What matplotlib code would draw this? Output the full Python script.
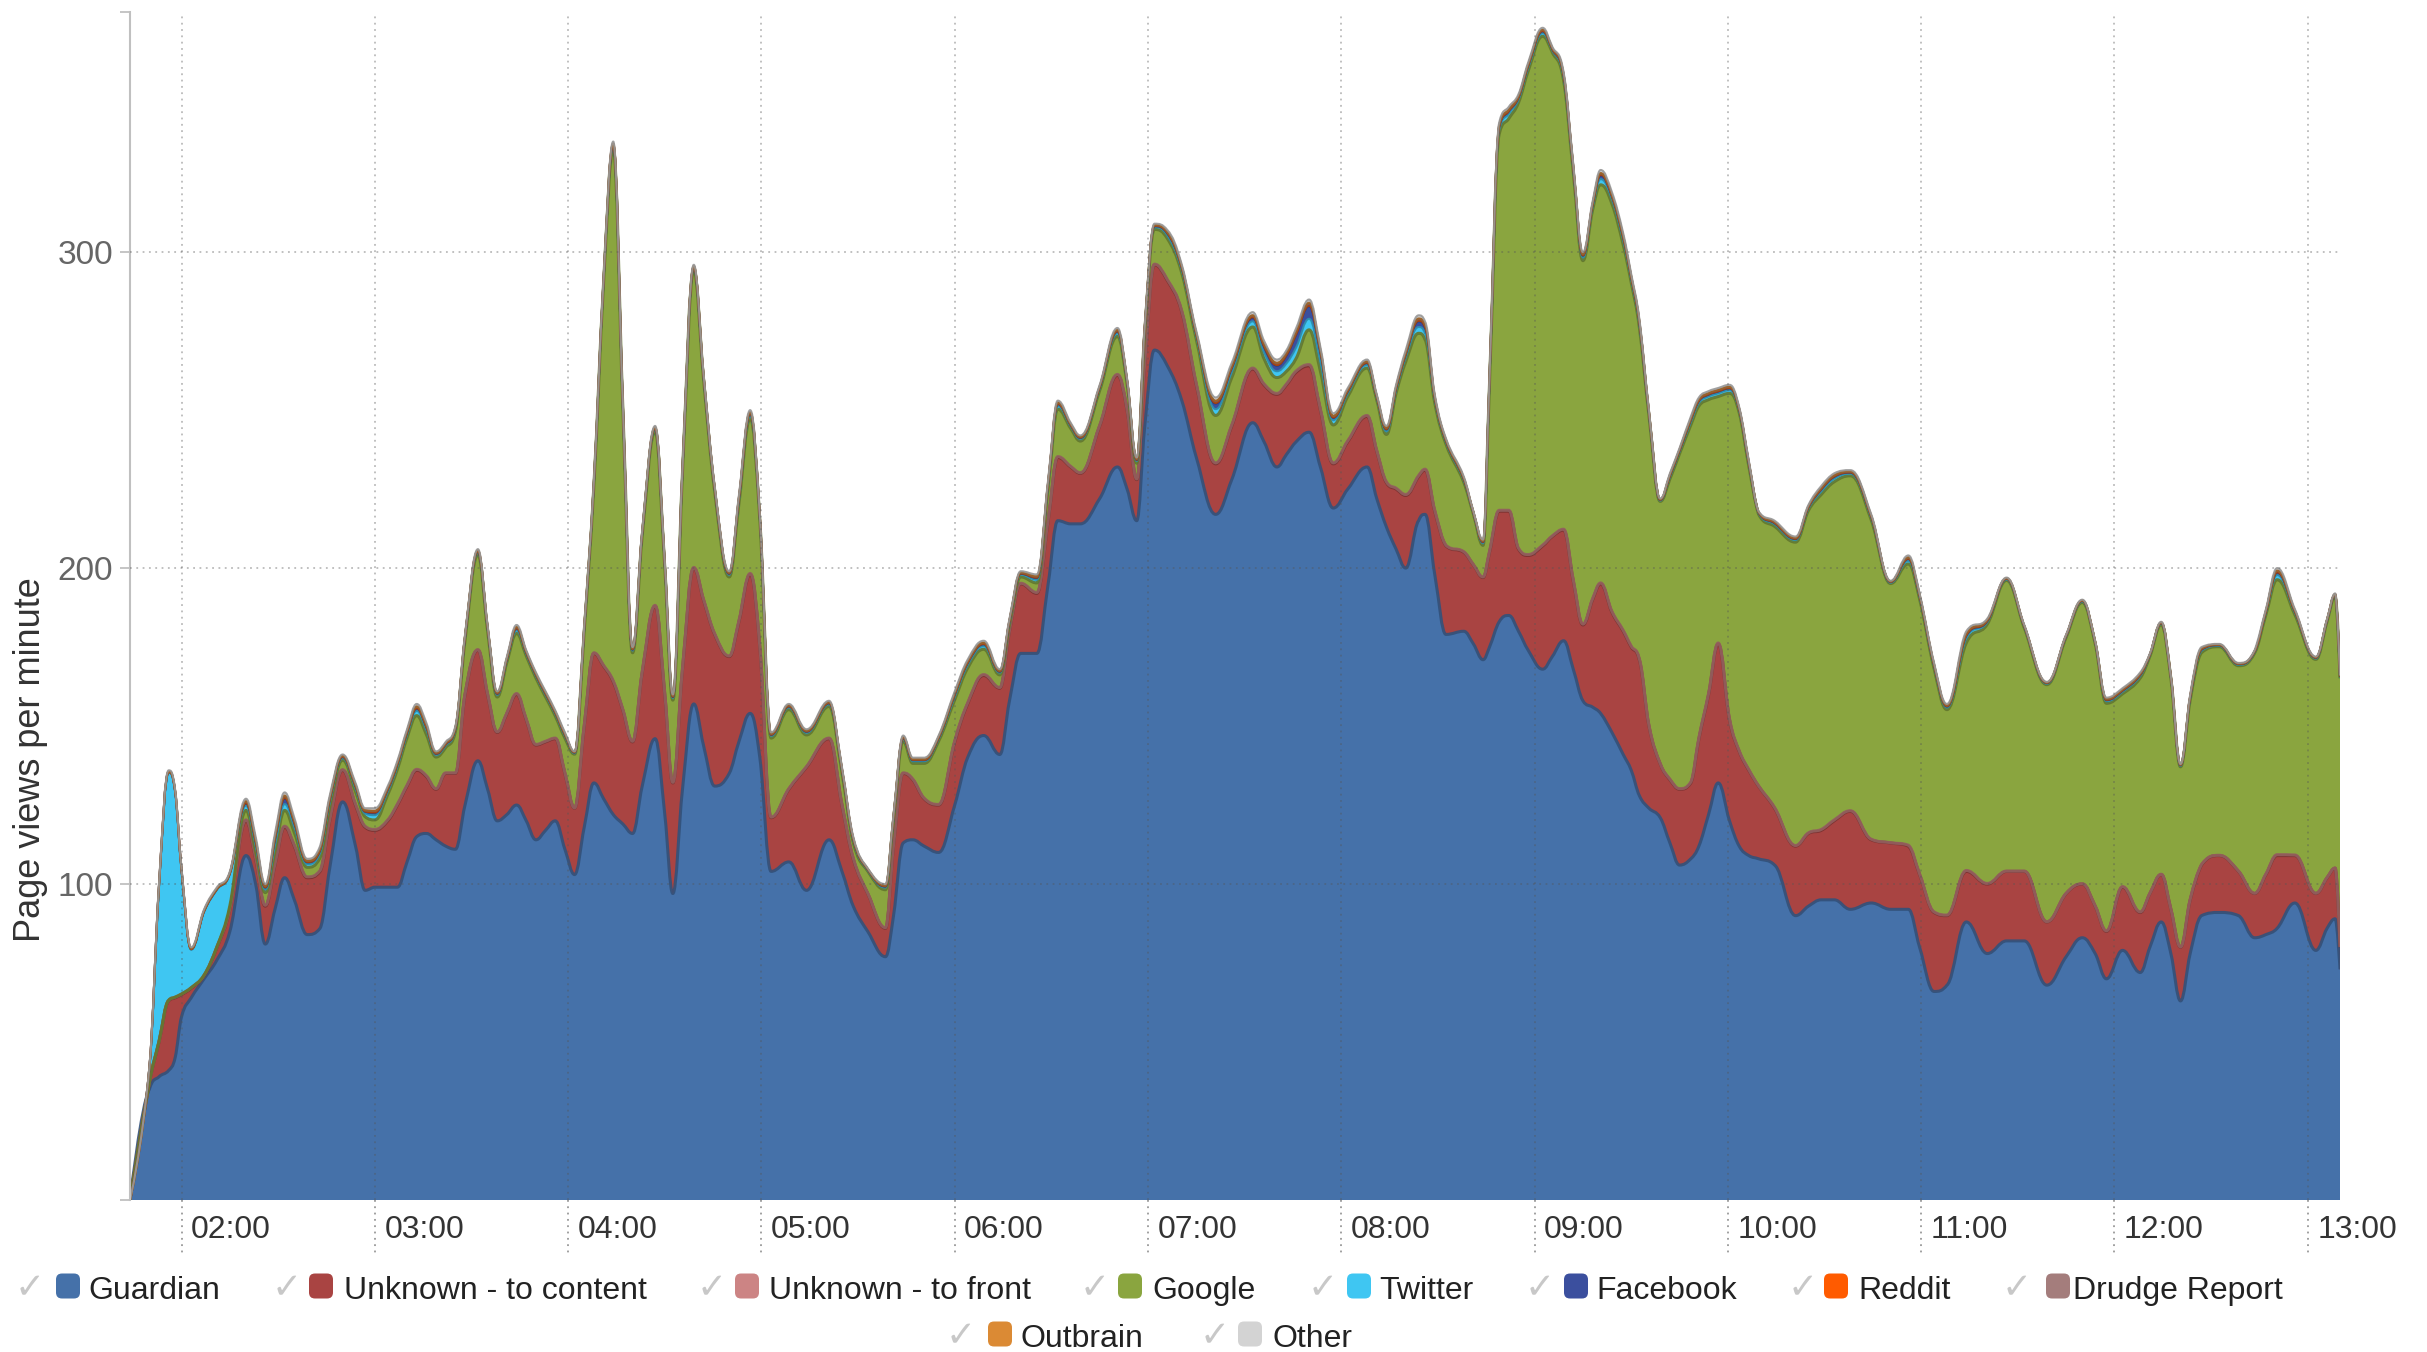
import numpy as np
import matplotlib.pyplot as plt
import matplotlib.colors as mcolors
from matplotlib.patches import FancyBboxPatch, PathPatch
from matplotlib.path import Path

# minutes since midnight
minutes = [104, 110, 113, 116, 118, 120, 123, 127, 131, 135,
           140, 143, 146, 149, 152, 155, 159, 163, 166, 170,
           174, 177, 180, 184, 187, 190, 193, 196, 199, 202,
           205, 208, 212, 215, 218, 221, 224, 227, 230, 233,
           236, 239, 242, 245, 248, 251, 254, 257, 260, 263,
           267, 270, 272.5, 275.5, 279, 282, 285.5, 290, 293, 296.5,
           299.5, 303, 308.5, 314, 321, 325, 328.5, 333, 338.5, 341,
           344, 347, 350.5, 355, 360, 364, 369, 374, 377, 380.5,
           385.5, 389, 392, 396, 399, 405, 410.5, 413.5, 416.5, 419,
           422, 426, 430.5, 435, 441, 446, 452.5, 456, 460, 463,
           466, 470, 473.5, 477.5, 482, 488, 491, 494, 497, 500,
           504, 506, 509, 512.5, 518, 521, 524, 526, 529, 532,
           535, 538, 542.5, 545.5, 549, 552, 555, 558, 560.5, 564,
           567.5, 570, 572.5, 575.5, 579, 582, 585, 588.5, 591, 594,
           597, 600.5, 603.5, 606.5, 609.5, 614.5, 621, 625, 629, 633,
           638, 644.5, 650.5, 656, 659.5, 664, 668, 674, 680.5, 686.5,
           692, 699, 705, 710, 714, 717.5, 722.5, 728, 731, 734.5,
           737.5, 740.5, 743.5, 747, 752.5, 758.5, 763.5, 767, 770.5, 776,
           782.5, 786, 788.5, 790]

guardian = [0, 35, 39, 41, 45, 58, 64, 70, 76, 85,
            109, 100, 81, 92, 102, 95, 84, 86, 105, 126,
            112, 98, 99, 99, 99, 107, 115, 116, 114, 112,
            111, 125, 139, 130, 120, 122, 125, 120, 114, 117,
            120, 111, 103, 118, 132, 127, 122, 119, 116, 131,
            146, 122, 97, 130, 157, 144, 131, 135, 145, 154,
            140, 104, 107, 98, 114, 104, 93, 85, 77, 90,
            113, 114, 112, 110, 125, 140, 147, 141, 158, 173,
            173, 195, 215, 214, 214, 222, 232, 225, 215, 245,
            269, 264, 253, 235, 217, 228, 246, 240, 232, 236,
            240, 243, 232, 219, 225, 232, 222, 213, 206, 200,
            215, 217, 198, 179, 180, 176, 171, 175, 183, 185,
            180, 174, 168, 172, 177, 168, 158, 156, 154, 148,
            141, 136, 128, 124, 121, 113, 106, 108, 112, 122,
            132, 120, 112, 109, 108, 106, 90, 93, 95, 95,
            92, 94, 92, 92, 80, 66, 68, 88, 78, 82,
            82, 68, 77, 83, 78, 70, 79, 72, 80, 88,
            78, 63, 78, 90, 91, 90, 83, 84, 86, 94,
            79, 86, 89, 73]

unknown_content = [0, 2, 11, 22, 19, 7, 3, 1, 4, 7,
                   11, 8, 12, 14, 16, 17, 18, 18, 15, 10,
                   13, 20, 18, 21, 26, 24, 21, 18, 16, 23,
                   24, 35, 35, 30, 28, 32, 35, 32, 30, 28,
                   26, 24, 21, 32, 41, 42, 42, 36, 29, 36,
                   42, 38, 35, 38, 43, 46, 48, 37, 38, 44,
                   35, 17, 23, 39, 32, 21, 15, 12, 9, 22,
                   22, 19, 15, 15, 20, 17, 19, 21, 22, 22,
                   19, 20, 20, 18, 16, 23, 29, 25, 13, 20,
                   27, 27, 28, 23, 16, 17, 17, 18, 23, 22,
                   22, 21, 18, 14, 15, 16, 15, 14, 19, 23,
                   14, 14, 20, 28, 25, 25, 26, 30, 35, 33,
                   26, 30, 39, 38, 35, 28, 24, 34, 41, 38,
                   39, 39, 43, 26, 17, 20, 24, 24, 34, 38,
                   44, 32, 30, 27, 23, 18, 22, 23, 22, 25,
                   31, 20, 21, 20, 23, 25, 22, 16, 22, 22,
                   22, 20, 20, 17, 15, 15, 20, 19, 17, 15,
                   14, 17, 17, 16, 18, 14, 14, 19, 23, 15,
                   18, 16, 16, 7]

unknown_front = [0, 0.1, 0.2, 0.2, 0.2, 0.2, 0.2, 0.2, 0.2, 0.2,
                 0.3, 0.3, 0.3, 0.3, 0.3, 0.3, 0.3, 0.3, 0.3, 0.2,
                 0.3, 0.3, 0.3, 0.3, 0.3, 0.3, 0.3, 0.3, 0.2, 0.2,
                 0.2, 0.2, 0.2, 0.2, 0.2, 0.2, 0.3, 0.2, 0.2, 0.2,
                 0.2, 0.2, 0.1, 0.2, 0.2, 0.2, 0.3, 0.2, 0.2, 0.2,
                 0.2, 0.2, 0.2, 0.2, 0.2, 0.2, 0.2, 0.2, 0.3, 0.3,
                 0.2, 0.2, 0.2, 0.2, 0.2, 0.2, 0.2, 0.1, 0.2, 0.2,
                 0.2, 0.2, 0.2, 0.2, 0.3, 0.3, 0.3, 0.2, 0.2, 0.2,
                 0.3, 0.3, 0.3, 0.2, 0.2, 0.2, 0.3, 0.2, 0.2, 0.2,
                 0.2, 0.3, 0.3, 0.3, 0.3, 0.3, 0.3, 0.3, 0.3, 0.3,
                 0.4, 0.4, 0.3, 0.3, 0.3, 0.3, 0.2, 0.3, 0.3, 0.3,
                 0.3, 0.3, 0.3, 0.2, 0.2, 0.1, 0.2, 0.3, 0.3, 0.3,
                 0.3, 0.3, 0.3, 0.2, 0.3, 0.3, 0.3, 0.3, 0.3, 0.3,
                 0.3, 0.3, 0.3, 0.2, 0.1, 0.2, 0.2, 0.3, 0.3, 0.3,
                 0.3, 0.3, 0.2, 0.2, 0.1, 0.2, 0.2, 0.2, 0.3, 0.3,
                 0.2, 0.2, 0.1, 0.3, 0.2, 0.2, 0.2, 0.3, 0.2, 0.1,
                 0.1, 0.1, 0.1, 0.1, 0.1, 0.2, 0.2, 0.2, 0.1, 0.1,
                 0.1, 0.1, 0.2, 0.2, 0.1, 0.1, 0.1, 0.2, 0.3, 0.2,
                 0.1, 0.1, 0.1, 0.1]

google = [0, 0, 0, 0, 0, 0, 0, 0, 0, 1,
          3, 2, 4, 4, 5, 4, 3, 4, 4, 3,
          4, 3, 3, 8, 11, 15, 17, 13, 10, 8,
          13, 17, 30, 20, 11, 16, 19, 20, 21, 14,
          7, 11, 17, 30, 53, 121, 168, 95, 28, 43,
          55, 40, 26, 62, 94, 70, 45, 25, 37, 49,
          40, 25, 25, 10, 10, 10, 5, 7, 12, 8,
          10, 5, 11, 20, 13, 11, 8, 4, 2, 2,
          3, 10, 15, 12, 10, 11, 12, 8, 5, 10,
          11, 13, 12, 14, 15, 15, 13, 8, 5, 4,
          4, 11, 12, 12, 14, 15, 16, 15, 30, 42,
          45, 41, 34, 32, 22, 16, 10, 53, 119, 124,
          141, 153, 161, 153, 142, 129, 115, 123, 126, 129,
          122, 115, 105, 98, 83, 95, 106, 113, 105, 93,
          78, 103, 107, 96, 86, 89, 96, 102, 106, 107,
          106, 101, 82, 89, 87, 77, 65, 72, 82, 92,
          77, 75, 81, 89, 83, 72, 61, 74, 75, 79,
          73, 57, 63, 67, 66, 65, 76, 82, 87, 76,
          74, 81, 86, 85]

twitter = [0, 4.5, 49, 72, 65, 39, 12, 20, 18, 10,
           1.5, 1.8, 1, 2, 2, 1.8, 1, 1.5, 1.5, 0.7,
           1, 1, 1.5, 1, 1, 1, 1.5, 1.5, 0.7, 0.7,
           0.7, 0.7, 0.7, 0.7, 0.7, 0.7, 1, 0.7, 0.7, 0.7,
           0.7, 0.7, 0.3, 0.7, 0.7, 0.7, 1, 0.7, 0.7, 0.7,
           0.7, 0.7, 0.7, 0.7, 0.7, 0.7, 0.7, 0.7, 1, 1,
           0.7, 0.7, 0.7, 0.7, 0.7, 0.7, 0.7, 0.3, 0.7, 0.7,
           0.7, 0.7, 0.7, 0.7, 1, 1, 1, 0.7, 0.7, 0.7,
           1, 1, 1, 0.7, 0.7, 0.7, 1, 0.7, 0.7, 0.7,
           0.7, 1, 1, 1, 2, 1.8, 1.8, 2, 2, 2.5,
           3.5, 3.5, 3, 1.5, 1, 1, 0.7, 1, 1, 1.5,
           2, 2, 1, 0.7, 0.7, 0.3, 0.7, 1, 1.5, 1.5,
           1, 1, 1, 0.7, 1, 1, 1, 1, 1.8, 1.5,
           1.5, 1, 1, 0.7, 0.3, 0.7, 0.7, 1, 1, 1,
           1, 1, 0.7, 0.7, 0.3, 0.7, 0.7, 0.7, 1, 1,
           0.7, 0.7, 0.3, 1, 0.7, 0.7, 0.7, 1.5, 0.7, 0.3,
           0.3, 0.3, 0.3, 0.3, 0.3, 0.7, 0.7, 0.7, 0.3, 0.3,
           0.3, 0.3, 0.7, 0.7, 0.3, 0.3, 0.3, 0.7, 1.5, 0.7,
           0.3, 0.3, 0.3, 0.3]

facebook = [0, 0.1, 0.2, 0.2, 0.2, 0.2, 0.2, 0.2, 0.2, 0.2,
            0.8, 1.2, 0.6, 1.8, 1.8, 1.2, 0.6, 0.8, 0.8, 0.3,
            0.6, 0.6, 0.8, 0.6, 0.6, 0.6, 0.8, 0.8, 0.3, 0.3,
            0.3, 0.3, 0.3, 0.3, 0.3, 0.3, 0.6, 0.3, 0.3, 0.3,
            0.3, 0.3, 0.2, 0.3, 0.3, 0.3, 0.6, 0.3, 0.3, 0.3,
            0.3, 0.3, 0.3, 0.3, 0.3, 0.3, 0.3, 0.3, 0.6, 0.6,
            0.3, 0.3, 0.3, 0.3, 0.3, 0.3, 0.3, 0.2, 0.3, 0.3,
            0.3, 0.3, 0.3, 0.3, 0.6, 0.6, 0.6, 0.3, 0.3, 0.3,
            0.6, 0.6, 0.6, 0.3, 0.3, 0.3, 0.6, 0.3, 0.3, 0.3,
            0.3, 0.6, 0.6, 0.6, 1.8, 1.2, 1.2, 1.8, 1.8, 2.5,
            4, 4, 3, 0.8, 0.6, 0.6, 0.3, 0.6, 0.6, 0.8,
            1.8, 1.8, 0.6, 0.3, 0.3, 0.2, 0.3, 0.6, 0.8, 0.8,
            0.6, 0.6, 0.6, 0.3, 0.6, 0.6, 0.6, 0.6, 1.2, 0.8,
            0.8, 0.6, 0.6, 0.3, 0.2, 0.3, 0.3, 0.6, 0.6, 0.6,
            0.6, 0.6, 0.3, 0.3, 0.2, 0.3, 0.3, 0.3, 0.6, 0.6,
            0.3, 0.3, 0.2, 0.6, 0.3, 0.3, 0.3, 0.8, 0.3, 0.2,
            0.2, 0.2, 0.2, 0.2, 0.2, 0.3, 0.3, 0.3, 0.2, 0.2,
            0.2, 0.2, 0.3, 0.3, 0.2, 0.2, 0.2, 0.3, 0.8, 0.3,
            0.2, 0.2, 0.2, 0.2]

reddit = [0, 0, 0, 0, 0, 0, 0, 0, 0, 0,
          0.1, 0.2, 0.1, 0.2, 0.2, 0.2, 0.1, 0.1, 0.1, 0.1,
          0.1, 0.1, 0.1, 0.1, 0.1, 0.1, 0.1, 0.1, 0.1, 0.1,
          0.1, 0.1, 0.1, 0.1, 0.1, 0.1, 0.1, 0.1, 0.1, 0.1,
          0.1, 0.1, 0.05, 0.1, 0.1, 0.1, 0.1, 0.1, 0.1, 0.1,
          0.1, 0.1, 0.1, 0.1, 0.1, 0.1, 0.1, 0.1, 0.1, 0.1,
          0.1, 0.1, 0.1, 0.1, 0.1, 0.1, 0.1, 0.05, 0.1, 0.1,
          0.1, 0.1, 0.1, 0.1, 0.1, 0.1, 0.1, 0.1, 0.1, 0.1,
          0.1, 0.1, 0.1, 0.1, 0.1, 0.1, 0.1, 0.1, 0.1, 0.1,
          0.1, 0.1, 0.1, 0.1, 0.2, 0.2, 0.2, 0.2, 0.2, 0.2,
          0.2, 0.2, 0.2, 0.1, 0.1, 0.1, 0.1, 0.1, 0.1, 0.1,
          0.2, 0.2, 0.1, 0.1, 0.1, 0.05, 0.1, 0.1, 0.1, 0.1,
          0.1, 0.1, 0.1, 0.1, 0.1, 0.1, 0.1, 0.1, 0.2, 0.1,
          0.1, 0.1, 0.1, 0.1, 0.05, 0.1, 0.1, 0.1, 0.1, 0.1,
          0.1, 0.1, 0.1, 0.1, 0.05, 0.1, 0.1, 0.1, 0.1, 0.1,
          0.1, 0.1, 0.05, 0.1, 0.1, 0.1, 0.1, 0.1, 0.1, 0.05,
          0.05, 0.05, 0.05, 0.05, 0.05, 0.1, 0.1, 0.1, 0.05, 0.05,
          0.05, 0.05, 0.1, 0.1, 0.05, 0.05, 0.05, 0.1, 0.1, 0.1,
          0.05, 0.05, 0.05, 0.05]

drudge_report = [0, 0.1, 0.2, 0.2, 0.2, 0.2, 0.2, 0.2, 0.2, 0.2,
                 0.4, 0.4, 0.3, 0.5, 0.5, 0.4, 0.3, 0.4, 0.4, 0.2,
                 0.3, 0.3, 0.4, 0.3, 0.3, 0.3, 0.4, 0.4, 0.2, 0.2,
                 0.2, 0.2, 0.2, 0.2, 0.2, 0.2, 0.3, 0.2, 0.2, 0.2,
                 0.2, 0.2, 0.1, 0.2, 0.2, 0.2, 0.3, 0.2, 0.2, 0.2,
                 0.2, 0.2, 0.2, 0.2, 0.2, 0.2, 0.2, 0.2, 0.3, 0.3,
                 0.2, 0.2, 0.2, 0.2, 0.2, 0.2, 0.2, 0.1, 0.2, 0.2,
                 0.2, 0.2, 0.2, 0.2, 0.3, 0.3, 0.3, 0.2, 0.2, 0.2,
                 0.3, 0.3, 0.3, 0.2, 0.2, 0.2, 0.3, 0.2, 0.2, 0.2,
                 0.2, 0.3, 0.3, 0.3, 0.5, 0.4, 0.4, 0.5, 0.5, 0.5,
                 0.6, 0.6, 0.5, 0.4, 0.3, 0.3, 0.2, 0.3, 0.3, 0.4,
                 0.5, 0.5, 0.3, 0.2, 0.2, 0.1, 0.2, 0.3, 0.4, 0.4,
                 0.3, 0.3, 0.3, 0.2, 0.3, 0.3, 0.3, 0.3, 0.4, 0.4,
                 0.4, 0.3, 0.3, 0.2, 0.1, 0.2, 0.2, 0.3, 0.3, 0.3,
                 0.3, 0.3, 0.2, 0.2, 0.1, 0.2, 0.2, 0.2, 0.3, 0.3,
                 0.2, 0.2, 0.1, 0.3, 0.2, 0.2, 0.2, 0.4, 0.2, 0.1,
                 0.1, 0.1, 0.1, 0.1, 0.1, 0.2, 0.2, 0.2, 0.1, 0.1,
                 0.1, 0.1, 0.2, 0.2, 0.1, 0.1, 0.1, 0.2, 0.4, 0.2,
                 0.1, 0.1, 0.1, 0.1]

outbrain = [0, 0, 0, 0, 0, 0, 0, 0, 0, 0,
            0.1, 0.1, 0.1, 0.2, 0.2, 0.1, 0.1, 0.1, 0.1, 0.1,
            0.1, 0.1, 0.1, 0.1, 0.1, 0.1, 0.1, 0.1, 0.1, 0.1,
            0.1, 0.1, 0.1, 0.1, 0.1, 0.1, 0.1, 0.1, 0.1, 0.1,
            0.1, 0.1, 0.05, 0.1, 0.1, 0.1, 0.1, 0.1, 0.1, 0.1,
            0.1, 0.1, 0.1, 0.1, 0.1, 0.1, 0.1, 0.1, 0.1, 0.1,
            0.1, 0.1, 0.1, 0.1, 0.1, 0.1, 0.1, 0.05, 0.1, 0.1,
            0.1, 0.1, 0.1, 0.1, 0.1, 0.1, 0.1, 0.1, 0.1, 0.1,
            0.1, 0.1, 0.1, 0.1, 0.1, 0.1, 0.1, 0.1, 0.1, 0.1,
            0.1, 0.1, 0.1, 0.1, 0.2, 0.1, 0.1, 0.2, 0.2, 0.2,
            0.3, 0.3, 0.2, 0.1, 0.1, 0.1, 0.1, 0.1, 0.1, 0.1,
            0.2, 0.2, 0.1, 0.1, 0.1, 0.05, 0.1, 0.1, 0.1, 0.1,
            0.1, 0.1, 0.1, 0.1, 0.1, 0.1, 0.1, 0.1, 0.1, 0.1,
            0.1, 0.1, 0.1, 0.1, 0.05, 0.1, 0.1, 0.1, 0.1, 0.1,
            0.1, 0.1, 0.1, 0.1, 0.05, 0.1, 0.1, 0.1, 0.1, 0.1,
            0.1, 0.1, 0.05, 0.1, 0.1, 0.1, 0.1, 0.1, 0.1, 0.05,
            0.05, 0.05, 0.05, 0.05, 0.05, 0.1, 0.1, 0.1, 0.05, 0.05,
            0.05, 0.05, 0.1, 0.1, 0.05, 0.05, 0.05, 0.1, 0.1, 0.1,
            0.05, 0.05, 0.05, 0.05]

other = [0, 0.2, 0.4, 0.4, 0.4, 0.4, 0.4, 0.4, 0.4, 0.4,
         0.8, 1, 0.6, 1, 1, 1, 0.6, 0.8, 0.8, 0.4,
         0.6, 0.6, 0.8, 0.6, 0.6, 0.6, 0.8, 0.8, 0.4, 0.4,
         0.4, 0.4, 0.4, 0.4, 0.4, 0.4, 0.6, 0.4, 0.4, 0.4,
         0.4, 0.4, 0.2, 0.4, 0.4, 0.4, 0.6, 0.4, 0.4, 0.4,
         0.4, 0.4, 0.4, 0.4, 0.4, 0.4, 0.4, 0.4, 0.6, 0.6,
         0.4, 0.4, 0.4, 0.4, 0.4, 0.4, 0.4, 0.2, 0.4, 0.4,
         0.4, 0.4, 0.4, 0.4, 0.6, 0.6, 0.6, 0.4, 0.4, 0.4,
         0.6, 0.6, 0.6, 0.4, 0.4, 0.4, 0.6, 0.4, 0.4, 0.4,
         0.4, 0.6, 0.6, 0.6, 1, 1, 1, 1, 1, 0.8,
         1, 1, 0.8, 0.8, 0.6, 0.6, 0.4, 0.6, 0.6, 0.8,
         1, 1, 0.6, 0.4, 0.4, 0.2, 0.4, 0.6, 0.8, 0.8,
         0.6, 0.6, 0.6, 0.4, 0.6, 0.6, 0.6, 0.6, 1, 0.8,
         0.8, 0.6, 0.6, 0.4, 0.2, 0.4, 0.4, 0.6, 0.6, 0.6,
         0.6, 0.6, 0.4, 0.4, 0.2, 0.4, 0.4, 0.4, 0.6, 0.6,
         0.4, 0.4, 0.2, 0.6, 0.4, 0.4, 0.4, 0.8, 0.4, 0.2,
         0.2, 0.2, 0.2, 0.2, 0.2, 0.4, 0.4, 0.4, 0.2, 0.2,
         0.2, 0.2, 0.4, 0.4, 0.2, 0.2, 0.2, 0.4, 0.8, 0.4,
         0.2, 0.2, 0.2, 0.2]

hour_ticks = [120, 180, 240, 300, 360, 420, 480, 540, 600, 660, 720, 780]
hour_labels = ["02:00", "03:00", "04:00", "05:00", "06:00", "07:00",
               "08:00", "09:00", "10:00", "11:00", "12:00", "13:00"]

names = ["Guardian", "Unknown - to content", "Unknown - to front", "Google",
         "Twitter", "Facebook", "Reddit", "Drudge Report", "Outbrain", "Other"]
colors = ["#4571a9", "#a94442", "#cc8484", "#8aa53f", "#3fc6f2",
          "#3b4f9e", "#ff5b00", "#a47d7c", "#db8a34", "#d3d3d3"]
series = [guardian, unknown_content, unknown_front, google, twitter,
          facebook, reddit, drudge_report, outbrain, other]


def spline_verts(xs, ys, smoothing=1.5):
    # areaspline-style cubic curve through the points
    n = len(xs)
    lc = [(xs[i], ys[i]) for i in range(n)]
    rc = [(xs[i], ys[i]) for i in range(n)]
    d = smoothing + 1
    for i in range(1, n - 1):
        px, py = xs[i], ys[i]
        lx, ly = xs[i - 1], ys[i - 1]
        nx, ny = xs[i + 1], ys[i + 1]
        lcx, lcy = (smoothing * px + lx) / d, (smoothing * py + ly) / d
        rcx, rcy = (smoothing * px + nx) / d, (smoothing * py + ny) / d
        corr = (rcy - lcy) * (rcx - px) / (rcx - lcx) + py - rcy
        lcy += corr
        rcy += corr
        if lcy > ly and lcy > py:
            lcy = max(ly, py); rcy = 2 * py - lcy
        elif lcy < ly and lcy < py:
            lcy = min(ly, py); rcy = 2 * py - lcy
        if rcy > ny and rcy > py:
            rcy = max(ny, py); lcy = 2 * py - rcy
        elif rcy < ny and rcy < py:
            rcy = min(ny, py); lcy = 2 * py - rcy
        lc[i] = (lcx, lcy)
        rc[i] = (rcx, rcy)
    verts = [(xs[0], ys[0])]
    for i in range(1, n):
        verts += [rc[i - 1], lc[i], (xs[i], ys[i])]
    return verts


W, H = 2427, 1352
plt.rcParams['font.family'] = ['Liberation Sans', 'DejaVu Sans']

fig = plt.figure(figsize=(W / 100, H / 100), dpi=100)
ax = fig.add_axes([130 / W, 152 / H, 2210 / W, 1188 / H])

x = np.array(minutes, dtype=float)
tops = np.cumsum(np.array(series, dtype=float), axis=0)
curves = [spline_verts(x, np.zeros_like(x))] + [spline_verts(x, t) for t in tops]

for i, c in enumerate(colors):
    upper, lower = curves[i + 1], curves[i]
    verts = upper + lower[::-1] + [upper[0]]
    codes = ([Path.MOVETO] + [Path.CURVE4] * (len(upper) - 1) + [Path.LINETO]
             + [Path.CURVE4] * (len(lower) - 1) + [Path.CLOSEPOLY])
    ax.add_patch(PathPatch(Path(verts, codes), facecolor=c, edgecolor=c,
                           lw=0.3, zorder=1))

# darker top outline of each series
for i, c in enumerate(colors):
    upper = curves[i + 1]
    codes = [Path.MOVETO] + [Path.CURVE4] * (len(upper) - 1)
    dark = np.array(mcolors.to_rgb(c)) * 0.72
    ax.add_patch(PathPatch(Path(upper, codes), fill=False, edgecolor=dark,
                           lw=2.2 if i < 4 else 1.5, alpha=0.9, zorder=2,
                           joinstyle='round'))

ax.set_xlim(minutes[0], minutes[-1])
ax.set_ylim(0, 376)

ax.set_xticks(hour_ticks)
ax.set_xticklabels([])
ax.tick_params(axis='x', length=0)
ax.set_yticks([100, 200, 300])
ax.set_yticks([0, 376], minor=True)
ax.tick_params(axis='y', which='both', length=7, width=1.3, color='#c0c0c0',
               labelsize=24, labelcolor='#666666', pad=5)

ax.set_axisbelow(False)
ax.grid(True, color='#555555', alpha=0.4, linestyle=(0, (1, 2.5)), lw=1.3)

for s in ['top', 'right', 'bottom']:
    ax.spines[s].set_visible(False)
ax.spines['left'].set_color('#c0c0c0')
ax.spines['left'].set_linewidth(1.5)

xt = ax.get_xaxis_transform()
for m, lab in zip(hour_ticks, hour_labels):
    ax.plot([m, m], [0, -0.045], transform=xt, color='#999999',
            linestyle=(0, (1, 2.5)), lw=1.3, clip_on=False)
    ax.annotate(lab, xy=(m, 0), xycoords=('data', 'axes fraction'),
                xytext=(6.8, -27.4), textcoords='offset points',
                ha='left', va='baseline', fontsize=23, color='#333333')

fig.text(31 / W, 1 - 760 / H, "Page views per minute", rotation=90,
         ha='center', va='center', fontsize=26, color='#333333')

# legend, laid out like the highcharts one (pixel positions)
legend_pos = [(15, 56, 88, 0), (272, 309, 344, 0), (697, 735, 769, 0),
              (1080, 1118, 1152, 0), (1308, 1347, 1379, 0), (1525, 1564, 1596, 0),
              (1788, 1824, 1858, 0), (2002, 2046, 2073, 0),
              (946, 988, 1020, 1), (1200, 1238, 1272, 1)]
baselines = [1299, 1347]
centers = [1286, 1334]
for name, c, (cx, sx, lx, row) in zip(names, colors, legend_pos):
    fig.text(cx / W, 1 - (baselines[row] - 1) / H, "\u2713", family='DejaVu Sans',
             fontsize=26, color='#c8c8c8', va='baseline', ha='left')
    box = FancyBboxPatch((sx / 100, (H - centers[row] - 12.5) / 100), 0.24, 0.25,
                         boxstyle='round,pad=0,rounding_size=0.06',
                         transform=fig.dpi_scale_trans, facecolor=c,
                         edgecolor='none')
    fig.add_artist(box)
    fig.text(lx / W, 1 - baselines[row] / H, name, fontsize=23,
             color='#222222', va='baseline', ha='left')

fig.savefig('out.png', dpi=100)
